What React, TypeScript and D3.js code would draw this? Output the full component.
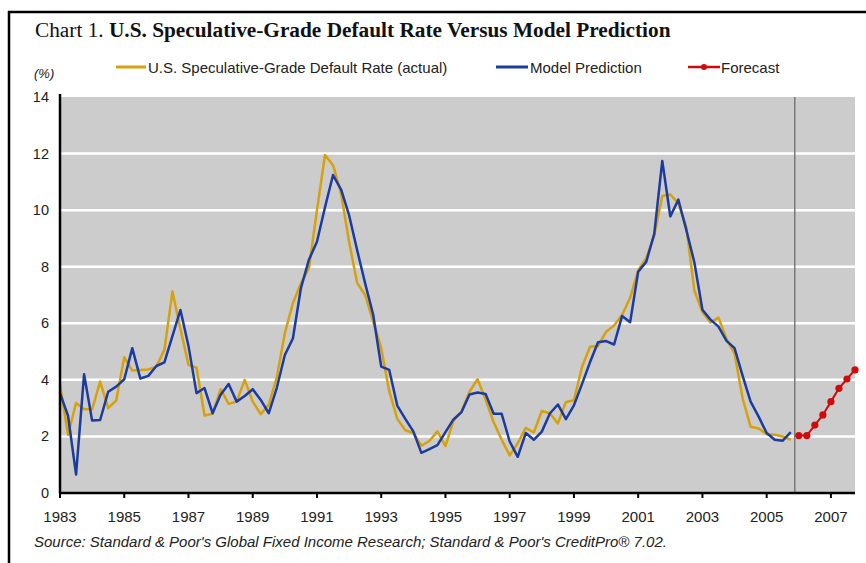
import React from 'react';
import * as d3 from 'd3';

const START_YEAR = 1983;

// Quarterly values, 1983Q1 .. 2005Q4
const actualRate = [
  3.82, 2.06, 3.18, 2.96, 2.96, 3.94, 3.0, 3.27, 4.8, 4.33,
  4.35, 4.37, 4.47, 5.06, 7.12, 5.8, 4.53, 4.43, 2.74, 2.8,
  3.67, 3.15, 3.23, 4.0, 3.23, 2.79, 3.12, 4.1, 5.65, 6.71,
  7.41, 7.94, 10.0, 11.95, 11.59, 10.59, 8.88, 7.43, 7.0, 6.06,
  5.12, 3.6, 2.62, 2.22, 2.12, 1.67, 1.84, 2.18, 1.66, 2.56,
  2.88, 3.59, 4.02, 3.3, 2.5, 1.88, 1.33, 1.76, 2.3, 2.14,
  2.9, 2.82, 2.46, 3.22, 3.28, 4.45, 5.17, 5.2, 5.7, 5.92,
  6.3, 6.9, 7.88, 8.3, 9.1, 10.5, 10.55, 10.25, 9.4, 7.15,
  6.4, 6.03, 6.2, 5.45, 4.94, 3.35, 2.34, 2.28, 2.08, 2.06,
  2.0, 1.88,
];

const modelPrediction = [
  3.53, 2.73, 0.65, 4.2, 2.56, 2.58, 3.58, 3.76, 4.02, 5.12,
  4.05, 4.14, 4.49, 4.62, 5.55, 6.47, 5.2, 3.53, 3.71, 2.82,
  3.47, 3.85, 3.23, 3.43, 3.67, 3.29, 2.82, 3.72, 4.88, 5.46,
  7.24, 8.25, 8.88, 10.1, 11.24, 10.73, 9.82, 8.59, 7.41, 6.3,
  4.47, 4.35, 3.09, 2.62, 2.18, 1.42, 1.55, 1.69, 2.15, 2.6,
  2.86, 3.48, 3.55, 3.5, 2.8, 2.8, 1.82, 1.28, 2.12, 1.88,
  2.17, 2.81, 3.13, 2.61, 3.1, 3.85, 4.62, 5.33, 5.37, 5.25,
  6.26, 6.04, 7.82, 8.17, 9.16, 11.74, 9.78, 10.37, 9.29, 8.15,
  6.48, 6.13, 5.88, 5.38, 5.12, 4.15, 3.23, 2.7, 2.12, 1.88,
  1.85, 2.15,
];

// Quarterly forecast, 2006Q1 .. 2007Q4
const forecastRate = [2.03, 2.03, 2.4, 2.76, 3.23, 3.7, 4.03, 4.35];

const xTickYears = [1983, 1985, 1987, 1989, 1991, 1993, 1995, 1997, 1999, 2001, 2003, 2005, 2007];
const yTicks = [0, 2, 4, 6, 8, 10, 12, 14];
const gridValues = [2, 4, 6, 8, 10, 12];

const legendLabels = ['U.S. Speculative-Grade Default Rate (actual)', 'Model Prediction', 'Forecast'];

const GOLD = '#D6A10C';
const BLUE = '#1B3C9E';
const RED = '#D10A0A';
const SANS = '"Liberation Sans", Arial, sans-serif';
const SERIF = '"Liberation Serif", "Times New Roman", serif';

type Pt = [number, number];

export default function App() {
  const W = 866;
  const H = 563;
  const plot = { left: 60, right: 855, top: 97, bottom: 493 };

  const tq = (i: number) => START_YEAR + i / 4;
  const actualPts: Pt[] = actualRate.map((v, i) => [tq(i), v]);
  const modelPts: Pt[] = modelPrediction.map((v, i) => [tq(i), v]);
  const fcOffset = actualRate.length;
  const forecastPts: Pt[] = forecastRate.map((v, i) => [tq(fcOffset + i), v]);
  const xEnd = tq(fcOffset + forecastRate.length - 1);
  const divider = (tq(fcOffset - 1) + tq(fcOffset)) / 2;

  const x = d3.scaleLinear().domain([START_YEAR, xEnd]).range([plot.left, plot.right]);
  const y = d3.scaleLinear().domain([0, 14]).range([plot.bottom, plot.top]);
  const line = d3
    .line<Pt>()
    .x((d) => x(d[0]))
    .y((d) => y(d[1]));

  return (
    <svg
      width={W}
      height={H}
      viewBox={`0 0 ${W} ${H}`}
      style={{ position: 'absolute', left: 0, top: 0, background: '#fff' }}
    >
      <rect x={0} y={0} width={W} height={H} fill="#fff" />
      {/* frame */}
      <line x1={8} y1={12} x2={W} y2={12} stroke="#000" strokeWidth={2.5} />
      <line x1={9} y1={11} x2={9} y2={H} stroke="#000" strokeWidth={2.5} />

      {/* title */}
      <text x={35} y={37} fontFamily={SERIF} fontSize={21.3} fill="#111">
        <tspan>Chart 1. </tspan>
        <tspan fontWeight="bold">U.S. Speculative-Grade Default Rate Versus Model Prediction</tspan>
      </text>

      {/* legend */}
      <g fontFamily={SANS} fontSize={15} fill="#222">
        <line x1={116} x2={146} y1={67} y2={67} stroke={GOLD} strokeWidth={3} />
        <text x={148} y={72.5}>{legendLabels[0]}</text>
        <line x1={496} x2={528} y1={67} y2={67} stroke={BLUE} strokeWidth={3} />
        <text x={530} y={72.5}>{legendLabels[1]}</text>
        <line x1={688} x2={720} y1={67} y2={67} stroke={RED} strokeWidth={2.5} />
        <circle cx={704} cy={67} r={3} fill={RED} />
        <text x={721} y={72.5}>{legendLabels[2]}</text>
      </g>

      <text x={34} y={78} fontFamily={SANS} fontSize={13} fontStyle="italic" fill="#222">
        (%)
      </text>

      {/* plot background */}
      <rect
        x={plot.left}
        y={plot.top}
        width={plot.right - plot.left}
        height={plot.bottom - plot.top}
        fill="#CCCCCC"
      />
      {gridValues.map((v) => (
        <line key={v} x1={plot.left} x2={plot.right} y1={y(v)} y2={y(v)} stroke="#fff" strokeWidth={2.5} />
      ))}

      {/* divider between actual and forecast */}
      <line x1={x(divider)} x2={x(divider)} y1={plot.top} y2={plot.bottom} stroke="#7a7a7a" strokeWidth={1.5} />

      {/* series */}
      <path d={line(actualPts) || ''} fill="none" stroke={GOLD} strokeWidth={2.5} strokeLinejoin="round" />
      <path d={line(modelPts) || ''} fill="none" stroke={BLUE} strokeWidth={2.5} strokeLinejoin="round" />
      <path d={line(forecastPts) || ''} fill="none" stroke={RED} strokeWidth={2} />
      {forecastPts.map((d, i) => (
        <circle key={i} cx={x(d[0])} cy={y(d[1])} r={3.6} fill={RED} />
      ))}

      {/* axes */}
      <line x1={plot.left} x2={plot.left} y1={plot.top - 3} y2={plot.bottom} stroke="#000" strokeWidth={2.5} />
      <line x1={plot.left} x2={plot.right} y1={plot.bottom} y2={plot.bottom} stroke="#000" strokeWidth={2.5} />
      {xTickYears.map((yr) => (
        <line key={yr} x1={x(yr)} x2={x(yr)} y1={plot.bottom} y2={plot.bottom + 5} stroke="#000" strokeWidth={2} />
      ))}
      <g fontFamily={SANS} fontSize={15} fill="#222">
        {xTickYears.map((yr) => (
          <text key={yr} x={x(yr)} y={522} textAnchor="middle">
            {yr}
          </text>
        ))}
      </g>
      <g fontFamily={SANS} fontSize={14.5} fill="#222">
        {yTicks.map((v) => (
          <text key={v} x={49} y={y(v) + 5} textAnchor="end">
            {v}
          </text>
        ))}
      </g>

      <text x={34} y={547} fontFamily={SANS} fontSize={15} fontStyle="italic" fill="#222">
        Source: Standard &amp; Poor's Global Fixed Income Research; Standard &amp; Poor's CreditPro® 7.02.
      </text>
    </svg>
  );
}
